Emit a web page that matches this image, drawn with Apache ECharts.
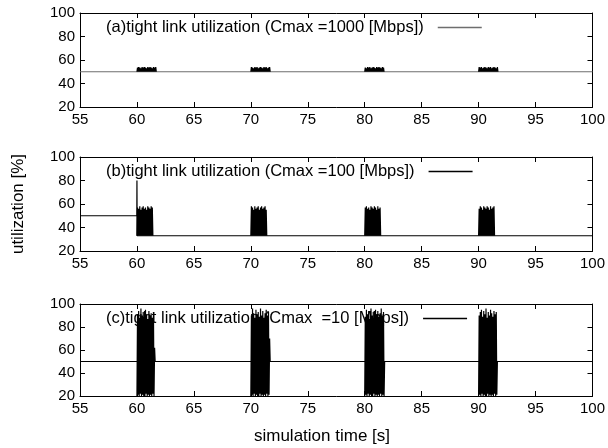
<!DOCTYPE html>
<html>
<head>
<meta charset="utf-8">
<script src="https://cdn.jsdelivr.net/npm/echarts@6/dist/echarts.min.js"></script>
<style>html,body{margin:0;padding:0;background:#fff;}#c{width:608px;height:448px;}</style>
</head>
<body>
<div id="c"></div>
<script>
// ---- data ----
var xTicks = [55, 60, 65, 70, 75, 80, 85, 90, 95, 100];
var yTicks = [20, 40, 60, 80, 100];
var legendNames = [
  "(a)tight link utilization (Cmax =1000 [Mbps])",
  "(b)tight link utilization (Cmax =100 [Mbps])",
  "(c)tight link utilization (Cmax  =10 [Mbps])"
];
var burstStarts = [60, 70, 80, 90];
// sample time offsets inside a burst [s]
var burstOffsets = [0.00,0.05,0.10,0.15,0.20,0.25,0.30,0.35,0.40,0.45,0.50,0.55,0.60,0.65,0.70,0.75,0.80,0.85,0.90,0.95,1.00,1.05,1.10,1.15,1.20,1.25,1.30,1.35,1.40,1.45,1.50,1.55,1.60,1.65,1.70,1.75];

// (a) Cmax = 1000 Mbps
var baseA = [[55, 50], [100, 50]];
var burstA1 = [50,53.5,50,54,50,53.5,50,53,50,54,50,53.5,50,54,50,53.5,50,53,50,54,50,53.5,50,54,50,53.5,50,53,50,54,50,53.5,50,54,50,50];
var burstA2 = [50,54,50,53.5,50,53,50,54,50,53.5,50,54,50,53,50,53.5,50,54,50,53.5,50,53,50,54,50,53.5,50,54,50,53,50,53.5,50,54,50,50];
var burstA3 = [50,53.5,50,53,50,54,50,53.5,50,54,50,53,50,53.5,50,54,50,53.5,50,53,50,54,50,53.5,50,54,50,53.5,50,53,50,54,50,53.5,50,50];
var burstA4 = [50,54,50,53.5,50,54,50,53,50,53.5,50,54,50,53.5,50,53,50,54,50,53.5,50,54,50,53,50,53.5,50,54,50,53.5,50,53,50,54,50,50];

// (b) Cmax = 100 Mbps
var baseB = [[55, 50], [59.99, 50], [60, 80], [60.02, 33], [100, 33]];
var burstB1 = [33,57,33,56,33,58,33,55,33,57,33,58,33,56,33,57,33,55,33,58,33,57,33,56,33,58,33,57,33,33];
var burstB2 = [33,58,33,57,33,55,33,58,33,56,33,57,33,58,33,55,33,57,33,58,33,56,33,57,33,58,33,55,33,33];
var burstB3 = [33,57,33,58,33,56,33,57,33,55,33,58,33,57,33,56,33,58,33,57,33,55,33,58,33,56,33,57,33,33];
var burstB4 = [33,56,33,58,33,57,33,55,33,58,33,57,33,56,33,58,33,57,33,55,33,58,33,56,33,57,33,58,33,33];

// (c) Cmax = 10 Mbps
var baseC = [[55, 50], [100, 50]];
var burstC1 = [20,91,21,94,20,88,22,96,20,90,21,93,20,89,20,95,22,91,20,87,21,94,20,90,21,92,20,88,22,93,20,62,50];
var burstC2 = [20,90,21,96,20,92,22,88,20,95,21,91,20,93,20,89,22,96,20,90,21,94,20,88,21,92,20,95,22,90,20,93,21,70,50];
var burstC3 = [20,89,21,95,20,91,22,94,20,87,21,96,20,90,20,93,22,88,20,95,21,91,20,94,21,89,20,92,22,96,20,90,21,93,20,50];
var burstC4 = [20,90,21,93,20,95,22,89,20,94,21,91,20,96,20,88,22,93,20,90,21,95,20,92,21,89,20,94,22,91,20,93,21,50];

var panels = [
  {name: legendNames[0], base: baseA, bursts: [burstA1, burstA2, burstA3, burstA4], color: '#6e6e6e'},
  {name: legendNames[1], base: baseB, bursts: [burstB1, burstB2, burstB3, burstB4], color: '#000'},
  {name: legendNames[2], base: baseC, bursts: [burstC1, burstC2, burstC3, burstC4], color: '#000'}
];

// ---- chart ----
var FONT = '"Liberation Sans", Arial, sans-serif';
var gridTops = [13, 157, 304];
var gridHeights = [94, 94, 92];
var chart = echarts.init(document.getElementById('c'), null, {renderer: 'canvas'});

function burstData(start, vals) {
  return vals.map(function (v, i) { return [start + burstOffsets[i], v]; });
}

var grids = [], xAxes = [], yAxes = [], series = [], legends = [];
var lineCol = '#000';
panels.forEach(function (p, i) {
  grids.push({left: 80, right: 7, top: gridTops[i], height: gridHeights[i], containLabel: false});
  var axLine = {show: true, onZero: false, lineStyle: {color: lineCol, width: 1}};
  var tick = {show: true, inside: true, length: 5, lineStyle: {color: lineCol}};
  xAxes.push({
    type: 'value', gridIndex: i, position: 'bottom', min: xTicks[0], max: xTicks[xTicks.length - 1], interval: 5,
    axisLine: axLine, axisTick: tick, splitLine: {show: false},
    axisLabel: {show: true, color: '#000', fontSize: 15, fontFamily: FONT, margin: 5}
  });
  xAxes.push({
    type: 'value', gridIndex: i, position: 'top', min: xTicks[0], max: xTicks[xTicks.length - 1], interval: 5,
    axisLine: axLine, axisTick: tick, splitLine: {show: false}, axisLabel: {show: false}
  });
  yAxes.push({
    type: 'value', gridIndex: i, position: 'left', min: yTicks[0], max: yTicks[yTicks.length - 1], interval: 20,
    axisLine: axLine, axisTick: tick, splitLine: {show: false},
    axisLabel: {show: true, color: '#000', fontSize: 15, fontFamily: FONT, margin: 5}
  });
  yAxes.push({
    type: 'value', gridIndex: i, position: 'right', min: yTicks[0], max: yTicks[yTicks.length - 1], interval: 20,
    axisLine: axLine, axisTick: tick, splitLine: {show: false}, axisLabel: {show: false}
  });
  series.push({
    name: p.name, type: 'line', xAxisIndex: 2 * i, yAxisIndex: 2 * i, data: p.base,
    showSymbol: false, symbol: 'none', lineStyle: {color: p.color, width: 1.2}, itemStyle: {color: p.color},
    animation: false, z: 3
  });
  p.bursts.forEach(function (b, k) {
    series.push({
      name: p.name + ' burst' + k, type: 'line', xAxisIndex: 2 * i, yAxisIndex: 2 * i,
      data: burstData(burstStarts[k], b),
      showSymbol: false, symbol: 'none', lineStyle: {color: '#000', width: 1.2}, itemStyle: {color: '#000'},
      animation: false, z: 4
    });
  });
  legends.push({
    data: [p.name], left: 106, top: gridTops[i] + 6, padding: 0, align: 'right',
    icon: 'rect', itemWidth: 44, itemHeight: 1.5, selectedMode: false,
    textStyle: {color: '#000', fontSize: 16.5, fontFamily: FONT, padding: [0, 9, 0, 0]}
  });
});

chart.setOption({
  animation: false,
  backgroundColor: '#fff',
  textStyle: {fontFamily: FONT},
  grid: grids, xAxis: xAxes, yAxis: yAxes, series: series, legend: legends,
  graphic: [{
    type: 'text', x: 18, y: 204, rotation: Math.PI / 2,
    style: {text: 'utilization [%]', fill: '#000', fontSize: 17, fontFamily: FONT, align: 'center', verticalAlign: 'middle'}
  }, {
    type: 'text', x: 322, y: 436,
    style: {text: 'simulation time [s]', fill: '#000', fontSize: 17, fontFamily: FONT, align: 'center', verticalAlign: 'middle'}
  }]
});
</script>
</body>
</html>
